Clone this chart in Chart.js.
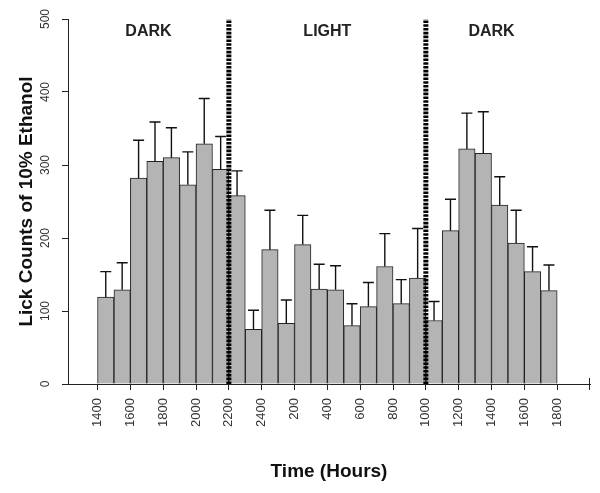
<!DOCTYPE html>
<html>
<head>
<meta charset="utf-8">
<script src="https://cdn.jsdelivr.net/npm/chart.js@4/dist/chart.umd.min.js"></script>
<style>
  html, body { margin: 0; padding: 0; background: #fff; }
  #wrap { width: 600px; height: 493px; }
</style>
</head>
<body>
<div id="wrap"><canvas id="chart" width="600" height="493"></canvas></div>
<script>
// start of each 1 h bin, in hours counted from midnight of day 1
const binStart = [14, 15, 16, 17, 18, 19, 20, 21, 22, 23, 24, 25, 26, 27,
                  28, 29, 30, 31, 32, 33, 34, 35, 36, 37, 38, 39, 40, 41];
// mean lick counts per bin
const lickMeans = [119, 129, 282, 305, 310, 273, 329, 294, 258, 75, 184, 83, 191, 130,
                   129, 80, 106, 161, 110, 145, 87, 210, 322, 316, 245, 193, 154, 128];
// standard error (upper bar only)
const lickSem = [35, 37, 52, 54, 41, 45, 62, 45, 34, 26, 54, 32, 40, 34,
                 33, 30, 33, 45, 33, 68, 26, 43, 49, 57, 39, 45, 34, 35];
// x axis tick positions and their clock labels
const tickHours = [14, 16, 18, 20, 22, 24, 26, 28, 30, 32, 34, 36, 38, 40, 42];
const tickLabels = ['1400', '1600', '1800', '2000', '2200', '2400', '200', '400',
                    '600', '800', '1000', '1200', '1400', '1600', '1800'];
// light/dark switches and phase names
const phaseChanges = [22, 34];
const phaseNames = ['DARK', 'LIGHT', 'DARK'];

const FONT = '"Liberation Sans", Arial, Helvetica, sans-serif';

// error bars, dotted phase lines and phase labels
const extras = {
    id: 'extras',
    afterDatasetsDraw(chart) {
        const { ctx, chartArea } = chart;
        const x = chart.scales.x;
        const y = chart.scales.y;
        ctx.save();

        ctx.strokeStyle = '#111';
        ctx.lineWidth = 1.4;
        binStart.forEach((h, i) => {
            const px = x.getPixelForValue(h + 0.5);
            const base = y.getPixelForValue(lickMeans[i]);
            const top = y.getPixelForValue(lickMeans[i] + lickSem[i]);
            ctx.beginPath();
            ctx.moveTo(px, base);
            ctx.lineTo(px, top);
            ctx.moveTo(px - 5.5, top);
            ctx.lineTo(px + 5.5, top);
            ctx.stroke();
        });

        // end tick of the x axis, crossing the axis line
        ctx.strokeStyle = '#222';
        ctx.lineWidth = 1;
        const xe = Math.round(x.getPixelForValue(x.max)) - 0.5;
        ctx.beginPath();
        ctx.moveTo(xe, chartArea.bottom + 6);
        ctx.lineTo(xe, chartArea.bottom - 6);
        ctx.stroke();

        ctx.strokeStyle = '#000';
        ctx.lineWidth = 5;
        ctx.setLineDash([2.6, 1.2]);
        phaseChanges.forEach(h => {
            const px = x.getPixelForValue(h);
            ctx.beginPath();
            ctx.moveTo(px, y.getPixelForValue(y.min));
            ctx.lineTo(px, y.getPixelForValue(y.max));
            ctx.stroke();
        });
        ctx.setLineDash([]);

        const edges = [x.min, ...phaseChanges, binStart[binStart.length - 1] + 1];
        ctx.font = 'bold 16px ' + FONT;
        ctx.fillStyle = '#222';
        ctx.textAlign = 'center';
        ctx.textBaseline = 'middle';
        phaseNames.forEach((name, i) => {
            const cx = x.getPixelForValue((edges[i] + edges[i + 1]) / 2);
            ctx.fillText(name, cx, chartArea.top + 12.5);
        });
        ctx.restore();
    }
};

new Chart(document.getElementById('chart'), {
    type: 'bar',
    data: {
        datasets: [{
            label: 'Lick counts',
            data: binStart.map((h, i) => ({ x: h + 0.5, y: lickMeans[i] })),
            backgroundColor: '#b4b4b4',
            borderColor: '#222',
            borderWidth: 1,
            barPercentage: 1,
            categoryPercentage: 1
        }]
    },
    options: {
        responsive: false,
        animation: false,
        layout: { padding: { top: 19, right: 10, left: 0, bottom: 0 } },
        plugins: { legend: { display: false }, tooltip: { enabled: false } },
        scales: {
            x: {
                type: 'linear',
                min: 12.2,
                max: 44,
                offset: false,
                afterBuildTicks: s => { s.ticks = tickHours.map(v => ({ value: v })); },
                afterFit: s => { s.height = 109; },
                ticks: {
                    autoSkip: false,
                    minRotation: 90,
                    maxRotation: 90,
                    padding: 8,
                    color: '#333',
                    font: { family: FONT, size: 13 },
                    callback: v => {
                        const i = tickHours.indexOf(v);
                        return i < 0 ? '' : tickLabels[i];
                    }
                },
                grid: { drawOnChartArea: false, offset: false, tickLength: 6, color: '#222' },
                border: { color: '#222', width: 1 },
                title: {
                    display: true,
                    text: 'Time (Hours)',
                    color: '#111',
                    font: { family: FONT, size: 19, weight: 'bold' },
                    padding: { top: 0, bottom: 10 }
                }
            },
            y: {
                min: 0,
                max: 500,
                afterFit: s => { s.width = 68; },
                ticks: {
                    stepSize: 100,
                    minRotation: 90,
                    maxRotation: 90,
                    crossAlign: 'center',
                    padding: 6,
                    color: '#333',
                    font: { family: FONT, size: 12 }
                },
                grid: { drawOnChartArea: false, tickLength: 6, color: '#222' },
                border: { color: '#222', width: 1 },
                title: {
                    display: true,
                    text: 'Lick Counts of 10% Ethanol',
                    color: '#111',
                    font: { family: FONT, size: 19, weight: 'bold' },
                    padding: { top: 15, bottom: 0 }
                }
            }
        }
    },
    plugins: [extras]
});
</script>
</body>
</html>
